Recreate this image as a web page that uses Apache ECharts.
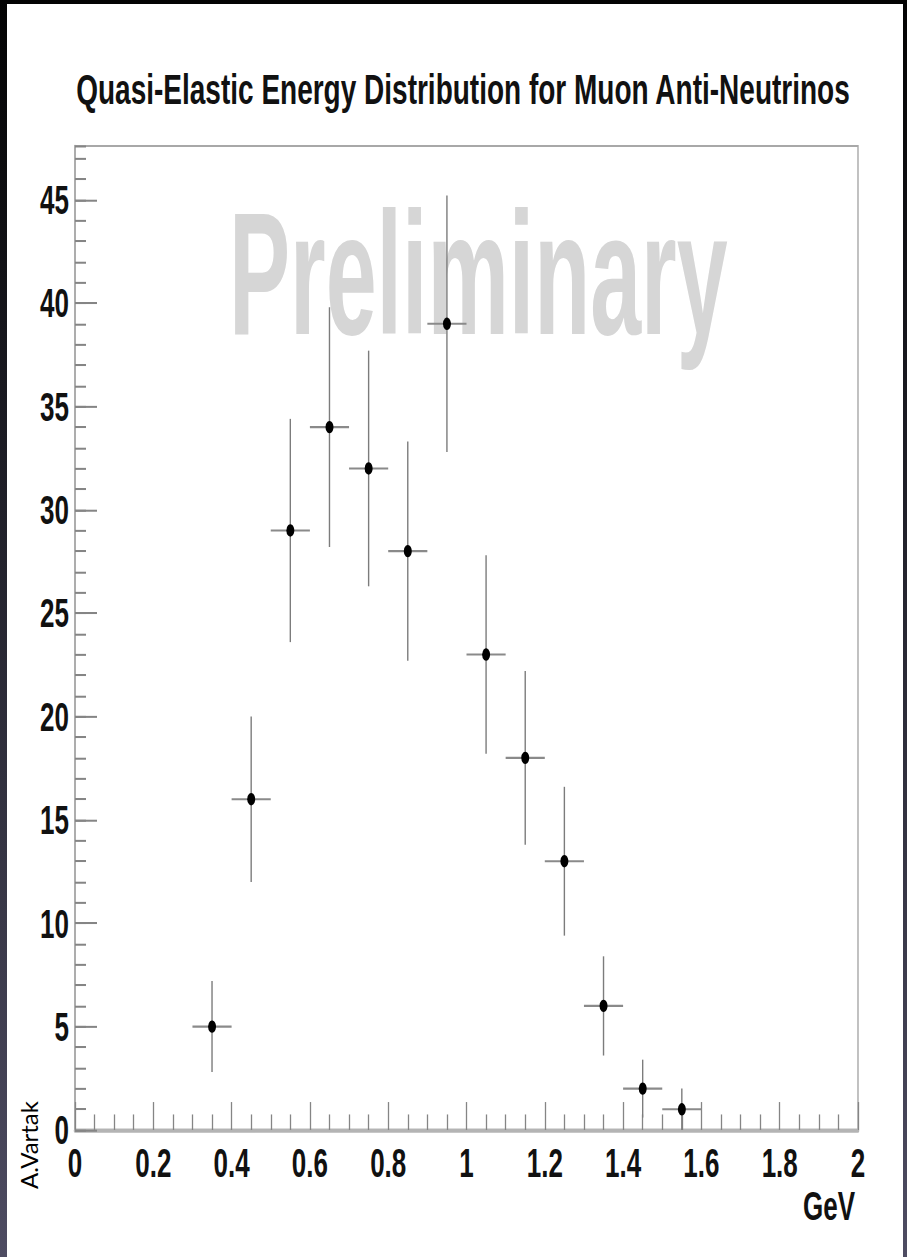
<!DOCTYPE html>
<html>
<head>
<meta charset="utf-8">
<script src="https://cdn.jsdelivr.net/npm/echarts@6/dist/echarts.min.js"></script>
<style>
  html, body {
    margin: 0;
    padding: 0;
    width: 907px;
    height: 1257px;
    overflow: hidden;
    background: linear-gradient(to bottom, #030303 0%, #1c1c24 35%, #4e4c62 100%);
  }
  #paper {
    position: absolute;
    left: 7px;
    top: 4px;
    width: 896px;
    height: 1253px;
    background: #ffffff;
  }
  /* the picture is stretched vertically, so draw flat and stretch the whole chart */
  #chart {
    position: absolute;
    left: 0;
    top: 0;
    width: 907px;
    height: 811px;
    transform: scaleY(1.55);
    transform-origin: 0 0;
  }
</style>
</head>
<body>
<div id="paper"></div>
<div id="chart"></div>
<script>
  const STRETCH = 1.55;

  // bin centres (GeV) and counts
  const binCenters = [0.35, 0.45, 0.55, 0.65, 0.75, 0.85, 0.95, 1.05, 1.15, 1.25, 1.35, 1.45, 1.55];
  const counts = [5, 16, 29, 34, 32, 28, 39, 23, 18, 13, 6, 2, 1];
  // error bars
  const yErrors = [2.2, 4.0, 5.4, 5.8, 5.7, 5.3, 6.2, 4.8, 4.2, 3.6, 2.4, 1.4, 1.0];
  const xErrors = [0.05, 0.05, 0.05, 0.05, 0.05, 0.05, 0.05, 0.05, 0.05, 0.05, 0.05, 0.05, 0.05];

  const titleText = 'Quasi-Elastic Energy Distribution for Muon Anti-Neutrinos';
  const xName = 'GeV';

  const chart = echarts.init(document.getElementById('chart'), null, {
    renderer: 'svg',
    width: 907,
    height: 811
  });

  const font = 'Liberation Sans';
  const tickColor = '#858585';

  const option = {
    animation: false,
    title: {
      text: titleText,
      left: 458,
      top: 38.5,
      textAlign: 'center',
      textStyle: {
        fontFamily: font,
        fontSize: 28,
        fontWeight: 'bold',
        color: '#111'
      }
    },
    grid: {
      left: 75,
      right: 49,
      top: 94.2,
      bottom: 82,
      show: true,
      borderColor: '#a8a8a8',
      borderWidth: 1.4
    },
    xAxis: {
      type: 'value',
      min: 0,
      max: 2,
      interval: 0.2,
      name: xName,
      nameLocation: 'end',
      nameGap: -3,
      nameTextStyle: {
        fontFamily: font,
        fontSize: 26,
        fontWeight: 'bold',
        color: '#111',
        align: 'right',
        verticalAlign: 'top',
        padding: [36, 0, 0, 0]
      },
      axisLine: { show: true, onZero: false, lineStyle: { color: '#b4b4b4', width: 2.6 } },
      axisTick: { inside: true, length: 18, lineStyle: { color: tickColor, width: 1.3 } },
      minorTick: { show: true, splitNumber: 4, length: 10, lineStyle: { color: tickColor, width: 1.3 } },
      splitLine: { show: false },
      axisLabel: {
        margin: 8,
        fontFamily: font,
        fontSize: 26,
        fontWeight: 'bold',
        color: '#111'
      }
    },
    yAxis: [{
      type: 'value',
      min: 0,
      max: 47.6,
      interval: 5,
      axisLine: { show: true, lineStyle: { color: '#a8a8a8', width: 1.6 } },
      axisTick: { inside: true, length: 22, lineStyle: { color: tickColor, width: 1.3 } },
      splitLine: { show: false },
      axisLabel: {
        margin: 6,
        showMaxLabel: false,
        fontFamily: font,
        fontSize: 26,
        fontWeight: 'bold',
        color: '#111'
      }
    }, {
      // minor ticks every unit
      type: 'value',
      position: 'left',
      min: 0,
      max: 47.6,
      interval: 1,
      axisLine: { show: false },
      axisTick: { inside: true, length: 11, lineStyle: { color: tickColor, width: 1.3 } },
      axisLabel: { show: false },
      splitLine: { show: false }
    }],
    graphic: [{
      type: 'text',
      x: 229,
      y: 176,
      scaleX: 0.81,
      z: -1,
      style: {
        text: 'Preliminary',
        fontFamily: font,
        fontSize: 113,
        fontWeight: 'bold',
        fill: '#d6d6d6',
        align: 'left',
        verticalAlign: 'middle'
      }
    }, {
      type: 'text',
      x: 28,
      y: 1145 / STRETCH,
      rotation: Math.PI / 2,
      scaleX: 1 / STRETCH,
      style: {
        text: 'A.Vartak',
        fontFamily: 'Lato',
        fontSize: 24,
        fill: '#000',
        align: 'center',
        verticalAlign: 'middle'
      }
    }],
    series: [{
      type: 'custom',
      yAxisIndex: 0,
      data: binCenters.map((x, i) => [x, counts[i], yErrors[i], xErrors[i]]),
      renderItem: function (params, api) {
        const x = api.value(0);
        const y = api.value(1);
        const ey = api.value(2);
        const ex = api.value(3);
        const c = api.coord([x, y]);
        const top = api.coord([x, y + ey]);
        const bot = api.coord([x, Math.max(0, y - ey)]);
        const l = api.coord([x - ex, y]);
        const r = api.coord([x + ex, y]);
        return {
          type: 'group',
          children: [{
            type: 'line',
            shape: { x1: top[0], y1: top[1], x2: bot[0], y2: bot[1] },
            style: { stroke: '#7c7c7c', lineWidth: 1.4 }
          }, {
            type: 'line',
            shape: { x1: l[0], y1: l[1], x2: r[0], y2: r[1] },
            style: { stroke: '#8a8a8a', lineWidth: 1.4 }
          }, {
            type: 'circle',
            shape: { cx: c[0], cy: c[1], r: 4 },
            style: { fill: '#000' }
          }]
        };
      }
    }]
  };

  chart.setOption(option);
</script>
</body>
</html>
